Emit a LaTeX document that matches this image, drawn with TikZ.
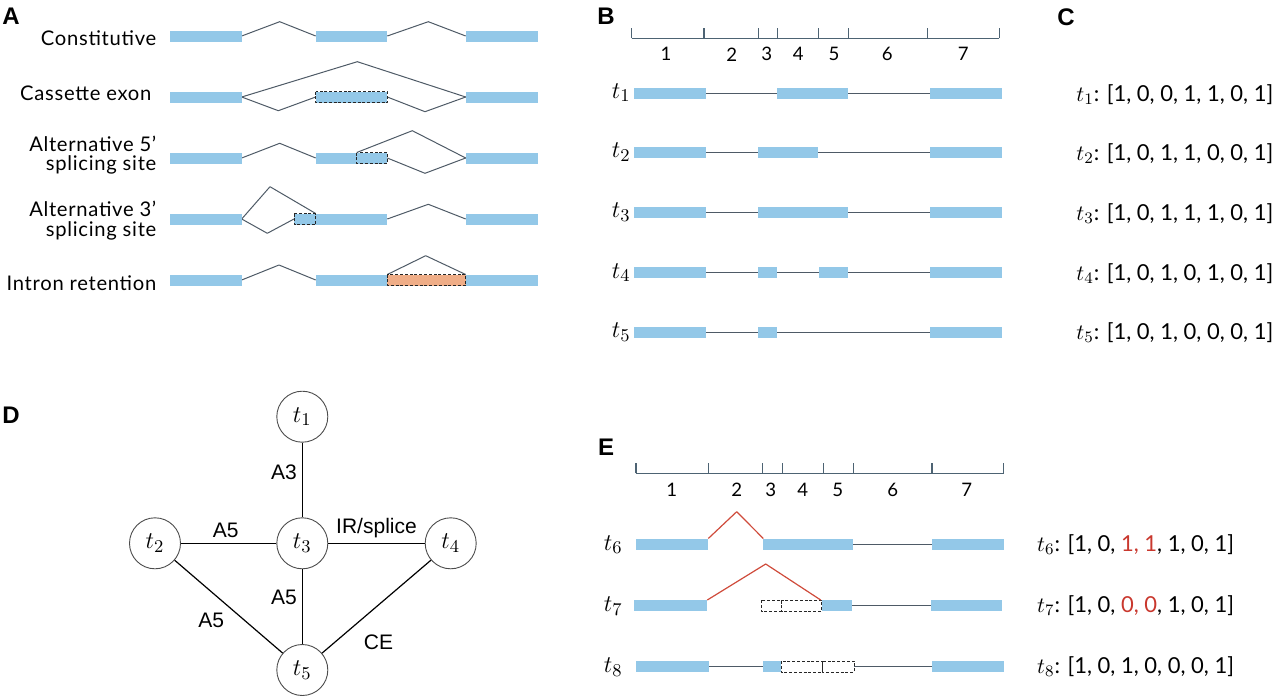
\documentclass[tikz,border=0pt]{standalone}
\usepackage{fontspec}
\setmainfont{Lato}
\newfontfamily\helvfont{Liberation Sans}
\newfontfamily\eventfont{Lato}[LetterSpace=3.5]
\usetikzlibrary{positioning}
\definecolor{exonblue}{HTML}{93C8E8}
\definecolor{retainorange}{HTML}{EFAD87}
\definecolor{intronline}{HTML}{4E5A66}
\definecolor{rulerline}{HTML}{4D6373}
\definecolor{junctionred}{HTML}{CF4B3B}
\definecolor{bitred}{HTML}{C9382E}
\tikzset{
  every picture/.append style={line join=round},
  exon/.style={fill=exonblue},
  alt exon/.style={fill=exonblue,draw=black!85,dash pattern=on 1.5pt off 0.9pt,line width=0.4pt},
  retained intron/.style={fill=retainorange,draw=black!85,dash pattern=on 1.5pt off 0.9pt,line width=0.4pt},
  lost exon/.style={draw=black!85,dash pattern=on 1.5pt off 0.9pt,line width=0.4pt},
  intron/.style={draw=intronline,line width=0.5pt},
  new junction/.style={draw=junctionred,line width=0.6pt},
  ruler/.style={draw=rulerline,line width=0.6pt},
  panel/.style={font=\helvfont\bfseries\fontsize{12}{12}\selectfont,inner sep=0pt},
  eventlabel/.style={font=\eventfont\fontsize{10.1}{9.6}\selectfont,inner sep=0pt,align=right,anchor=base east},
  segnum/.style={font=\fontsize{9.3}{9.3}\selectfont,inner sep=0pt},
  tlabel/.style={font=\fontsize{12.5}{12.5}\selectfont,inner sep=0pt,anchor=base east},
  bits/.style={font=\fontsize{11}{11}\selectfont,inner sep=0pt,anchor=base west},
  tnode/.style={circle,draw=black!70,line width=0.45pt,minimum size=25.5pt,inner sep=0pt,font=\fontsize{13}{13}\selectfont},
  graphedge/.style={draw=black,line width=0.6pt},
  elabel/.style={font=\helvfont\fontsize{10.5}{10.5}\selectfont,inner sep=2.5pt}
}
\begin{document}
\begin{tikzpicture}[x=0.5pt,y=-0.5pt]
\useasboundingbox (0,0) rectangle (1280,696);

% A
\node[panel] (pA) at (11,16.5) {A};
\node[eventlabel] (lconst) at (156.7,46) {Constitutive};
\node[eventlabel] (lcass) at (151.7,100) {Cassette exon};
\node[eventlabel,anchor=north east] (lalt5) at (156.7,135.5) {Alternative 5’\\splicing site};
\node[eventlabel,anchor=north east] (lalt3) at (156.7,201) {Alternative 3’\\splicing site};
\node[eventlabel] (lir) at (156.7,290.7) {Intron retention};

\draw[intron] (241.7,36) -- (279.7,21.7) -- (315.7,36);
\draw[intron] (387.3,36) -- (428.3,21.7) -- (465.7,36);
\fill[exon] (169.5,30.5) rectangle (241.7,41.5);
\fill[exon] (315.7,30.5) rectangle (387.3,41.5);
\fill[exon] (465.7,30.5) rectangle (537.7,41.5);

\draw[intron] (241.7,97) -- (357.3,61.7) -- (465.7,97);
\draw[intron] (241.7,97) -- (278.3,110.7) -- (315.7,97);
\draw[intron] (387.3,97) -- (425,111.7) -- (465.7,97);
\fill[exon] (169.5,91.5) rectangle (241.7,102.5);
\path[alt exon] (315.7,91.5) rectangle (387.3,102.5);
\fill[exon] (465.7,91.5) rectangle (537.7,102.5);

\draw[intron] (241.7,158) -- (279.7,143.3) -- (315.7,158);
\fill[exon] (169.5,152.5) rectangle (241.7,163.5);
\fill[exon] (315.7,152.5) rectangle (387.3,163.5);
\path[alt exon] (356.7,152.5) rectangle (387.3,163.5);
\fill[exon] (465.7,152.5) rectangle (537.7,163.5);
\draw[intron] (356.7,152.5) -- (412.3,130.7) -- (465.7,158);
\draw[intron] (387.3,158) -- (425,173.3) -- (465.7,158);

\draw[intron] (241.7,219) -- (270,186.7) -- (315.7,213.5);
\draw[intron] (241.7,219) -- (267.3,233.3) -- (294,219);
\draw[intron] (387.3,219) -- (428.3,204.3) -- (465.7,219);
\fill[exon] (169.5,213.5) rectangle (241.7,224.5);
\path[alt exon] (294,213.5) rectangle (315.7,224.5);
\fill[exon] (315.7,213.5) rectangle (387.3,224.5);
\fill[exon] (465.7,213.5) rectangle (537.7,224.5);

\draw[intron] (241.7,280) -- (279,265) -- (315.7,280);
\draw[intron] (387.3,274.5) -- (425.7,255.7) -- (465.7,274.5);
\fill[exon] (169.5,274.5) rectangle (241.7,285.5);
\fill[exon] (315.7,274.5) rectangle (387.3,285.5);
\path[retained intron] (387.3,274.5) rectangle (465.7,285.5);
\fill[exon] (465.7,274.5) rectangle (537.7,285.5);

% B
\node[panel] (pB) at (606,16.5) {B};
\draw[ruler] (631.7,38.3) -- (999.3,38.3);
\foreach \x in {631.7,704,758.7,777.7,818.3,848.7,927.7,999.3}
  \draw[ruler] (\x,38.3) -- (\x,28.3);
\foreach \x/\n in {666/1,731.7/2,766.7/3,798.3/4,834/5,887.3/6,963.3/7}
  \node[segnum] (bseg\n) at (\x,54.3) {\n};

\node[tlabel] (bt1) at (631,98.3) {$t_1$};
\draw[intron] (705.5,93) -- (929.5,93);
\fill[exon] (634,87.5) rectangle (705.5,98.5);
\fill[exon] (777.3,87.5) rectangle (848.3,98.5);
\fill[exon] (929.5,87.5) rectangle (1001.7,98.5);

\node[tlabel] (bt2) at (631,157.5) {$t_2$};
\draw[intron] (705.5,152) -- (929.5,152);
\fill[exon] (634,146.5) rectangle (705.5,157.5);
\fill[exon] (758.3,146.5) rectangle (818.3,157.5);
\fill[exon] (929.5,146.5) rectangle (1001.7,157.5);

\node[tlabel] (bt3) at (631,217.5) {$t_3$};
\draw[intron] (705.5,212) -- (929.5,212);
\fill[exon] (634,206.5) rectangle (705.5,217.5);
\fill[exon] (757.7,206.5) rectangle (848.3,217.5);
\fill[exon] (929.5,206.5) rectangle (1001.7,217.5);

\node[tlabel] (bt4) at (631,278) {$t_4$};
\draw[intron] (705.5,272.5) -- (929.5,272.5);
\fill[exon] (634,267) rectangle (705.5,278);
\fill[exon] (757.7,267) rectangle (776.5,278);
\fill[exon] (818.7,267) rectangle (848.3,278);
\fill[exon] (929.5,267) rectangle (1001.7,278);

\node[tlabel] (bt5) at (631,337.5) {$t_5$};
\draw[intron] (705.5,332) -- (929.5,332);
\fill[exon] (634,326.5) rectangle (705.5,337.5);
\fill[exon] (758.3,326.5) rectangle (776.7,337.5);
\fill[exon] (929.5,326.5) rectangle (1001.7,337.5);

% C
\node[panel] (pC) at (1066,17) {C};
\node[bits] (c1) at (1076,101) {$t_1$: [1, 0, 0, 1, 1, 0, 1]};
\node[bits] (c2) at (1076,160) {$t_2$: [1, 0, 1, 1, 0, 0, 1]};
\node[bits] (c3) at (1076,220) {$t_3$: [1, 0, 1, 1, 1, 0, 1]};
\node[bits] (c4) at (1076,280) {$t_4$: [1, 0, 1, 0, 1, 0, 1]};
\node[bits] (c5) at (1076,339) {$t_5$: [1, 0, 1, 0, 0, 0, 1]};

% D
\node[panel] (pD) at (11,415) {D};
\node[tnode] (t1) at (302.3,416.7) {$t_1$};
\node[tnode] (t2) at (155,543.3) {$t_2$};
\node[tnode] (t3) at (302.3,543.3) {$t_3$};
\node[tnode] (t4) at (450.7,543.3) {$t_4$};
\node[tnode] (t5) at (302.3,670) {$t_5$};
\draw[graphedge] (t1) -- (t3) node[elabel,pos=0.39,left] {A3};
\draw[graphedge] (t2) -- (t3) node[elabel,pos=0.47,above] {A5};
\draw[graphedge] (t3) -- (t4) node[elabel,pos=0.5,above] {IR/splice};
\draw[graphedge] (t3) -- (t5) node[elabel,pos=0.37,left] {A5};
\draw[graphedge] (t2) -- (t5) node[elabel,pos=0.51,anchor=north east] {A5};
\draw[graphedge] (t4) -- (t5) node[elabel,pos=0.7,below right=2.5pt] {CE};

% E
\node[panel] (pE) at (606,447.5) {E};
\draw[ruler] (636,473.3) -- (1003.7,473.3);
\foreach \x in {636,708.3,762.7,782.3,823.3,853.3,932,1003.7}
  \draw[ruler] (\x,473.3) -- (\x,463.3);
\foreach \x/\n in {671.7/1,736.7/2,770.7/3,802.7/4,837.7/5,892.7/6,966.7/7}
  \node[segnum] (eseg\n) at (\x,490) {\n};

\node[tlabel] (et6) at (623,550) {$t_6$};
\draw[intron] (853.3,544) -- (932,544);
\draw[new junction] (708.3,538.5) -- (736.7,511.7) -- (763.3,538.5);
\fill[exon] (636,538.5) rectangle (708.3,549.5);
\fill[exon] (763.3,538.5) rectangle (853.3,549.5);
\fill[exon] (932,538.5) rectangle (1003.7,549.5);

\node[tlabel] (et7) at (623,611.5) {$t_7$};
\draw[intron] (851.7,605.5) -- (930.7,605.5);
\fill[exon] (634.3,600) rectangle (707.3,611);
\path[lost exon] (761,600) rectangle (781,611);
\path[lost exon] (781,600) rectangle (821.7,611);
\fill[exon] (821.7,600) rectangle (851.7,611);
\fill[exon] (930.7,600) rectangle (1002.3,611);
\draw[new junction] (707.3,600) -- (765.7,564) -- (820.7,600);

\node[tlabel] (et8) at (623,672.5) {$t_8$};
\draw[intron] (709,666.5) -- (762.7,666.5);
\draw[intron] (854,666.5) -- (932,666.5);
\fill[exon] (636,661) rectangle (709,672);
\fill[exon] (762.7,661) rectangle (781,672);
\path[lost exon] (781,661) rectangle (822.7,672);
\path[lost exon] (822.7,661) rectangle (854,672);
\fill[exon] (932,661) rectangle (1003.7,672);

\node[bits] (c6) at (1036.7,551.5) {$t_6$: [1, 0, \textcolor{bitred}{1, 1}, 1, 0, 1]};
\node[bits] (c7) at (1036.7,612) {$t_7$: [1, 0, \textcolor{bitred}{0, 0}, 1, 0, 1]};
\node[bits] (c8) at (1036.7,673) {$t_8$: [1, 0, 1, 0, 0, 0, 1]};
\end{tikzpicture}
\end{document}
